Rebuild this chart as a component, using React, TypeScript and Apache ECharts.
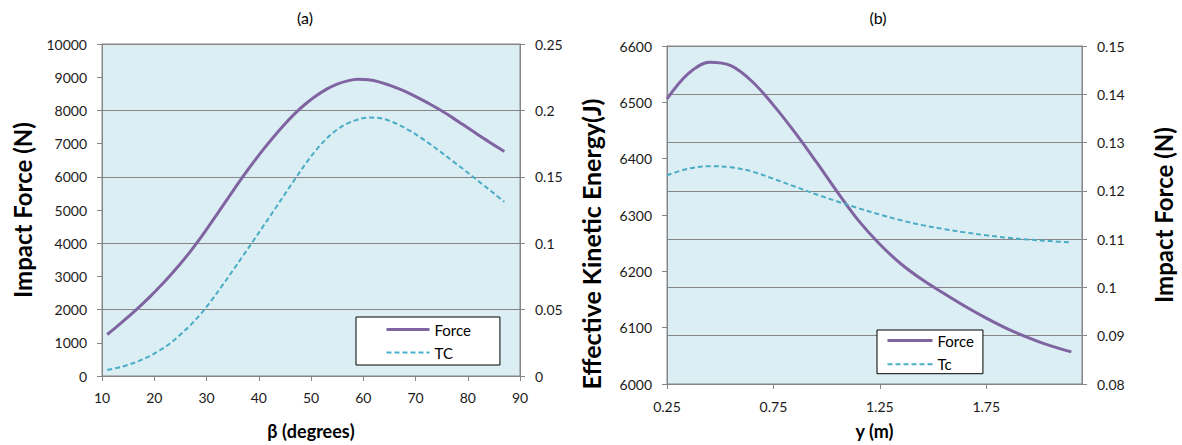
import React, { useEffect, useRef } from "react";
import * as echarts from "echarts";

// Chart (a): β (degrees)
const betaDeg = [11, 13, 15, 17, 19, 21, 23, 25, 27, 29, 31, 33, 35, 37, 39, 41, 43, 45, 47, 49, 51, 53, 55, 57, 59, 61, 63, 65, 67, 69, 71, 73, 75, 77, 79, 81, 83, 85, 87];
const forceA = [1250, 1510, 1780, 2060, 2360, 2680, 3020, 3380, 3770, 4190, 4640, 5100, 5560, 6010, 6440, 6850, 7230, 7590, 7920, 8200, 8440, 8640, 8790, 8890, 8935, 8920, 8860, 8760, 8640, 8500, 8340, 8170, 7990, 7790, 7580, 7370, 7160, 6960, 6760];
const tcA = [0.0045, 0.0062, 0.0084, 0.0112, 0.0148, 0.0192, 0.0245, 0.0312, 0.0386, 0.0472, 0.0572, 0.068, 0.0792, 0.0906, 0.102, 0.1136, 0.1252, 0.137, 0.1486, 0.16, 0.1703, 0.1788, 0.1855, 0.1902, 0.1932, 0.1946, 0.1943, 0.1922, 0.1888, 0.1845, 0.1795, 0.174, 0.1682, 0.1622, 0.1562, 0.15, 0.1438, 0.1375, 0.1312];

// Chart (b): y (m)
const yM = [0.25, 0.35, 0.45, 0.55, 0.65, 0.75, 0.85, 0.95, 1.05, 1.15, 1.25, 1.35, 1.45, 1.55, 1.65, 1.75, 1.85, 1.95, 2.05, 2.15];
const forceB = [6506, 6551, 6571, 6565, 6537, 6495, 6447, 6395, 6341, 6290, 6248, 6213, 6185, 6161, 6138, 6117, 6098, 6082, 6068, 6057];
const tcB = [0.1232, 0.1246, 0.1251, 0.1249, 0.124, 0.1225, 0.1209, 0.1193, 0.1178, 0.1164, 0.1151, 0.1139, 0.1129, 0.1121, 0.1114, 0.1108, 0.1103, 0.1099, 0.1096, 0.1093];

const FONT = "Lato";
const GRAY = "#868686";
const PURPLE = "#8064A2";
const CYAN = "#4BACC6";
const BG = "#DAEEF3";
const TXT = "#1a1a1a";

const plain = (v: number) => String(+v.toFixed(4));

function axisBase(extra: any) {
  return {
    axisLine: { show: true, lineStyle: { color: GRAY, width: 1 } },
    axisTick: { show: true, inside: false, length: 5, lineStyle: { color: GRAY } },
    splitLine: { show: false },
    ...extra,
  };
}

const label = (margin: number, extra: any = {}) => ({
  color: TXT, fontSize: 14, fontFamily: FONT, margin, formatter: plain, ...extra,
});
const nameStyle = (size: number) => ({ color: "#000", fontFamily: FONT, fontWeight: "bold", fontSize: size });

export default function App() {
  const ref = useRef<HTMLDivElement>(null);
  useEffect(() => {
    if (!ref.current) return;
    const chart = echarts.init(ref.current, null, { renderer: "svg" });
    const legendBase = {
      orient: "vertical",
      backgroundColor: "#fff", borderColor: "#000", borderWidth: 1, borderRadius: 0,
      itemHeight: 14,
      itemStyle: { opacity: 0 },
      textStyle: { fontSize: 15, fontFamily: FONT, color: "#000" },
      selectedMode: false,
    };
    const forceItem = { name: "Force", lineStyle: { width: 3, color: PURPLE } };
    const option: any = {
      animation: false,
      grid: [
        { left: 102, top: 44, width: 418, height: 333, show: true, backgroundColor: BG, borderColor: GRAY, borderWidth: 1 },
        { left: 667, top: 46, width: 415, height: 340, show: true, backgroundColor: BG, borderColor: GRAY, borderWidth: 1 },
      ],
      xAxis: [
        axisBase({
          type: "value", gridIndex: 0, min: 10, max: 90, interval: 10,
          name: "β (degrees)", nameLocation: "middle", nameGap: 46, nameTextStyle: nameStyle(18),
          axisLabel: label(14),
        }),
        axisBase({
          type: "value", gridIndex: 1, min: 0.25, max: 2.2, interval: 0.5,
          name: "y (m)", nameLocation: "middle", nameGap: 38, nameTextStyle: nameStyle(18),
          axisLabel: label(15, { showMaxLabel: false }),
        }),
      ],
      yAxis: [
        axisBase({
          type: "value", gridIndex: 0, position: "left", min: 0, max: 10000, interval: 1000,
          name: "Impact Force (N)", nameLocation: "middle", nameGap: 68, nameRotate: 90, nameTextStyle: nameStyle(24),
          axisLabel: label(15),
        }),
        axisBase({
          type: "value", gridIndex: 0, position: "right", min: 0, max: 0.25, interval: 0.05,
          splitLine: { show: true, lineStyle: { color: GRAY, width: 1 } },
          axisLabel: label(15),
        }),
        axisBase({
          type: "value", gridIndex: 1, position: "left", min: 6000, max: 6600, interval: 100,
          axisLabel: label(15),
        }),
        axisBase({
          type: "value", gridIndex: 1, position: "right", min: 0.08, max: 0.15, interval: 0.01,
          name: "Impact Force (N)", nameLocation: "middle", nameGap: 69, nameRotate: 90, nameTextStyle: nameStyle(24),
          splitLine: { show: true, lineStyle: { color: GRAY, width: 1 } },
          axisLabel: label(15),
        }),
      ],
      legend: [
        {
          ...legendBase, left: 356, top: 317,
          data: [forceItem, { name: "TC", lineStyle: { width: 2, color: CYAN, type: [5, 3] } }],
          padding: [5, 29, 5, 29], itemWidth: 43, itemGap: 8,
        },
        {
          ...legendBase, left: 877, top: 330,
          data: [forceItem, { name: "Tc", lineStyle: { width: 2, color: CYAN, type: [5, 3] } }],
          padding: [3, 9, 2, 9], itemWidth: 45, itemGap: 8.7,
        },
      ],
      graphic: [
        { type: "text", x: 305, y: 17, style: { text: "(a)", align: "center", verticalAlign: "middle", fontSize: 16, fontFamily: FONT, fill: "#000" } },
        { type: "text", x: 878, y: 17, style: { text: "(b)", align: "center", verticalAlign: "middle", fontSize: 16, fontFamily: FONT, fill: "#000" } },
        {
          type: "text", x: 591, y: 244, rotation: Math.PI / 2,
          style: { text: "Effective Kinetic Energy(J)", align: "center", verticalAlign: "middle", fontSize: 25, fontWeight: "bold", fontFamily: FONT, fill: "#000" },
        },
      ],
      series: [
        {
          name: "Force", type: "line", xAxisIndex: 0, yAxisIndex: 0, smooth: 0.35, symbol: "none",
          data: betaDeg.map((x, i) => [x, forceA[i]]),
          lineStyle: { color: PURPLE, width: 3 }, itemStyle: { color: PURPLE },
        },
        {
          name: "TC", type: "line", xAxisIndex: 0, yAxisIndex: 1, smooth: 0.35, symbol: "none",
          data: betaDeg.map((x, i) => [x, tcA[i]]),
          lineStyle: { color: CYAN, width: 2, type: [5, 3] }, itemStyle: { color: CYAN },
        },
        {
          name: "Force", type: "line", xAxisIndex: 1, yAxisIndex: 2, smooth: 0.35, symbol: "none",
          data: yM.map((x, i) => [x, forceB[i]]),
          lineStyle: { color: PURPLE, width: 3 }, itemStyle: { color: PURPLE },
        },
        {
          name: "Tc", type: "line", xAxisIndex: 1, yAxisIndex: 3, smooth: 0.35, symbol: "none",
          data: yM.map((x, i) => [x, tcB[i]]),
          lineStyle: { color: CYAN, width: 2, type: [5, 3] }, itemStyle: { color: CYAN },
        },
      ],
    };
    chart.setOption(option);
    return () => chart.dispose();
  }, []);
  return (
    <div
      ref={ref}
      style={{ position: "absolute", left: 0, top: 0, width: 1182, height: 445, background: "#fff" }}
    />
  );
}
